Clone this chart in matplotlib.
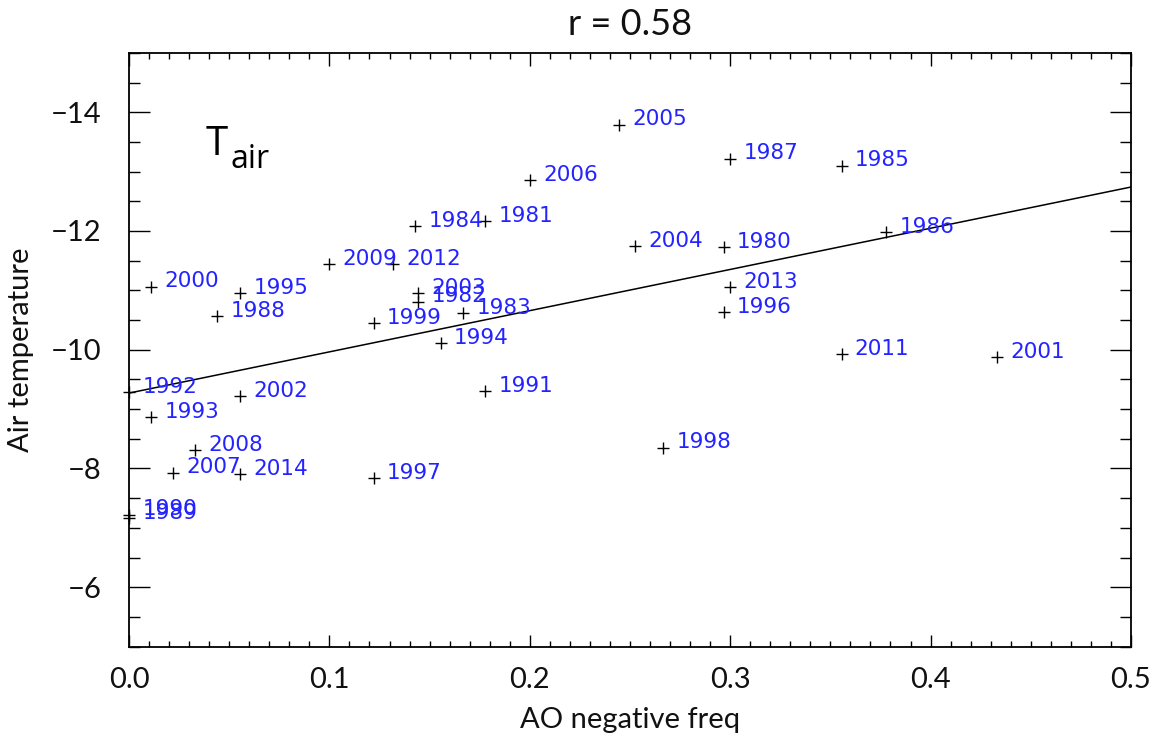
import numpy as np
import matplotlib
matplotlib.use("Agg")
import matplotlib.pyplot as plt
from matplotlib.ticker import MultipleLocator, FormatStrFormatter

# winter AO negative frequency vs air temperature, one point per year
years = [1980, 1981, 1982, 1983, 1984, 1985, 1986, 1987, 1988, 1989,
         1990, 1991, 1992, 1993, 1994, 1995, 1996, 1997, 1998, 1999,
         2000, 2001, 2002, 2003, 2004, 2005, 2006, 2007, 2008, 2009,
         2011, 2012, 2013, 2014]
ao_neg_freq = [0.2967, 0.1778, 0.1444, 0.1667, 0.1429, 0.3556, 0.3778, 0.3000, 0.0440, 0.0,
               0.0, 0.1778, 0.0, 0.0111, 0.1556, 0.0556, 0.2967, 0.1222, 0.2667, 0.1222,
               0.0110, 0.4333, 0.0556, 0.1444, 0.2527, 0.2444, 0.2000, 0.0222, 0.0330, 0.1000,
               0.3556, 0.1319, 0.3000, 0.0556]
t_air = [-11.73, -12.17, -10.81, -10.62, -12.08, -13.10, -11.98, -13.22, -10.57, -7.16,
         -7.22, -9.30, -9.29, -8.87, -10.11, -10.95, -10.63, -7.84, -8.35, -10.45,
         -11.06, -9.87, -9.22, -10.95, -11.74, -13.79, -12.86, -7.93, -8.31, -11.44,
         -9.93, -11.44, -11.05, -7.91]

# linear fit drawn across the plot (intercept, slope)
fit_intercept = -9.27
fit_slope = -6.94

axis_font = dict(family='Lato', weight='normal', color='#111111')

fig = plt.figure(figsize=(11.57, 7.39), dpi=100)
ax = fig.add_axes([0.1115, 0.125, 0.866, 0.8035])

ax.plot(ao_neg_freq, t_air, '+', color='black', markersize=8, markeredgewidth=1.0, clip_on=False)
for yr, xi, yi in zip(years, ao_neg_freq, t_air):
    ax.annotate(str(yr), (xi, yi), xytext=(9.5, -0.5), textcoords='offset points',
                color='#2323ff', fontsize=15.5, ha='left', va='baseline')

xl = np.array([0.0, 0.5])
ax.plot(xl, fit_intercept + fit_slope * xl, color='black', linewidth=1.1)

ax.set_xlim(0, 0.5)
ax.set_ylim(-5, -15)
ax.xaxis.set_major_locator(MultipleLocator(0.1))
ax.xaxis.set_minor_locator(MultipleLocator(0.01))
ax.xaxis.set_major_formatter(FormatStrFormatter('%.1f'))
ax.yaxis.set_minor_locator(MultipleLocator(0.5))
ax.set_yticks([-14, -12, -10, -8, -6])

ax.tick_params(axis='both', which='both', direction='in', top=True, right=True,
               width=1.0, labelsize=21, colors='black')
ax.tick_params(axis='x', which='major', length=9, pad=15)
ax.tick_params(axis='x', which='minor', length=4.3)
ax.tick_params(axis='y', which='major', length=15, pad=20)
ax.tick_params(axis='y', which='minor', length=7.7)
for lbl in ax.get_xticklabels() + ax.get_yticklabels():
    lbl.set_family('Lato')
    lbl.set_color('#111111')
for sp in ax.spines.values():
    sp.set_linewidth(1.3)

ax.set_title('r = 0.58', fontsize=26, pad=13, **axis_font)
ax.set_xlabel('AO negative freq', fontsize=21, labelpad=10, **axis_font)
ax.set_ylabel('Air temperature', fontsize=21, labelpad=12, **axis_font)

ax.text(0.0768, 0.828, 'T', transform=ax.transAxes, fontsize=29,
        family='Open Sans', ha='left', va='baseline')
ax.text(0.1010, 0.806, 'air', transform=ax.transAxes, fontsize=23,
        family='Open Sans', ha='left', va='baseline')

fig.savefig('out.png', dpi=100)
